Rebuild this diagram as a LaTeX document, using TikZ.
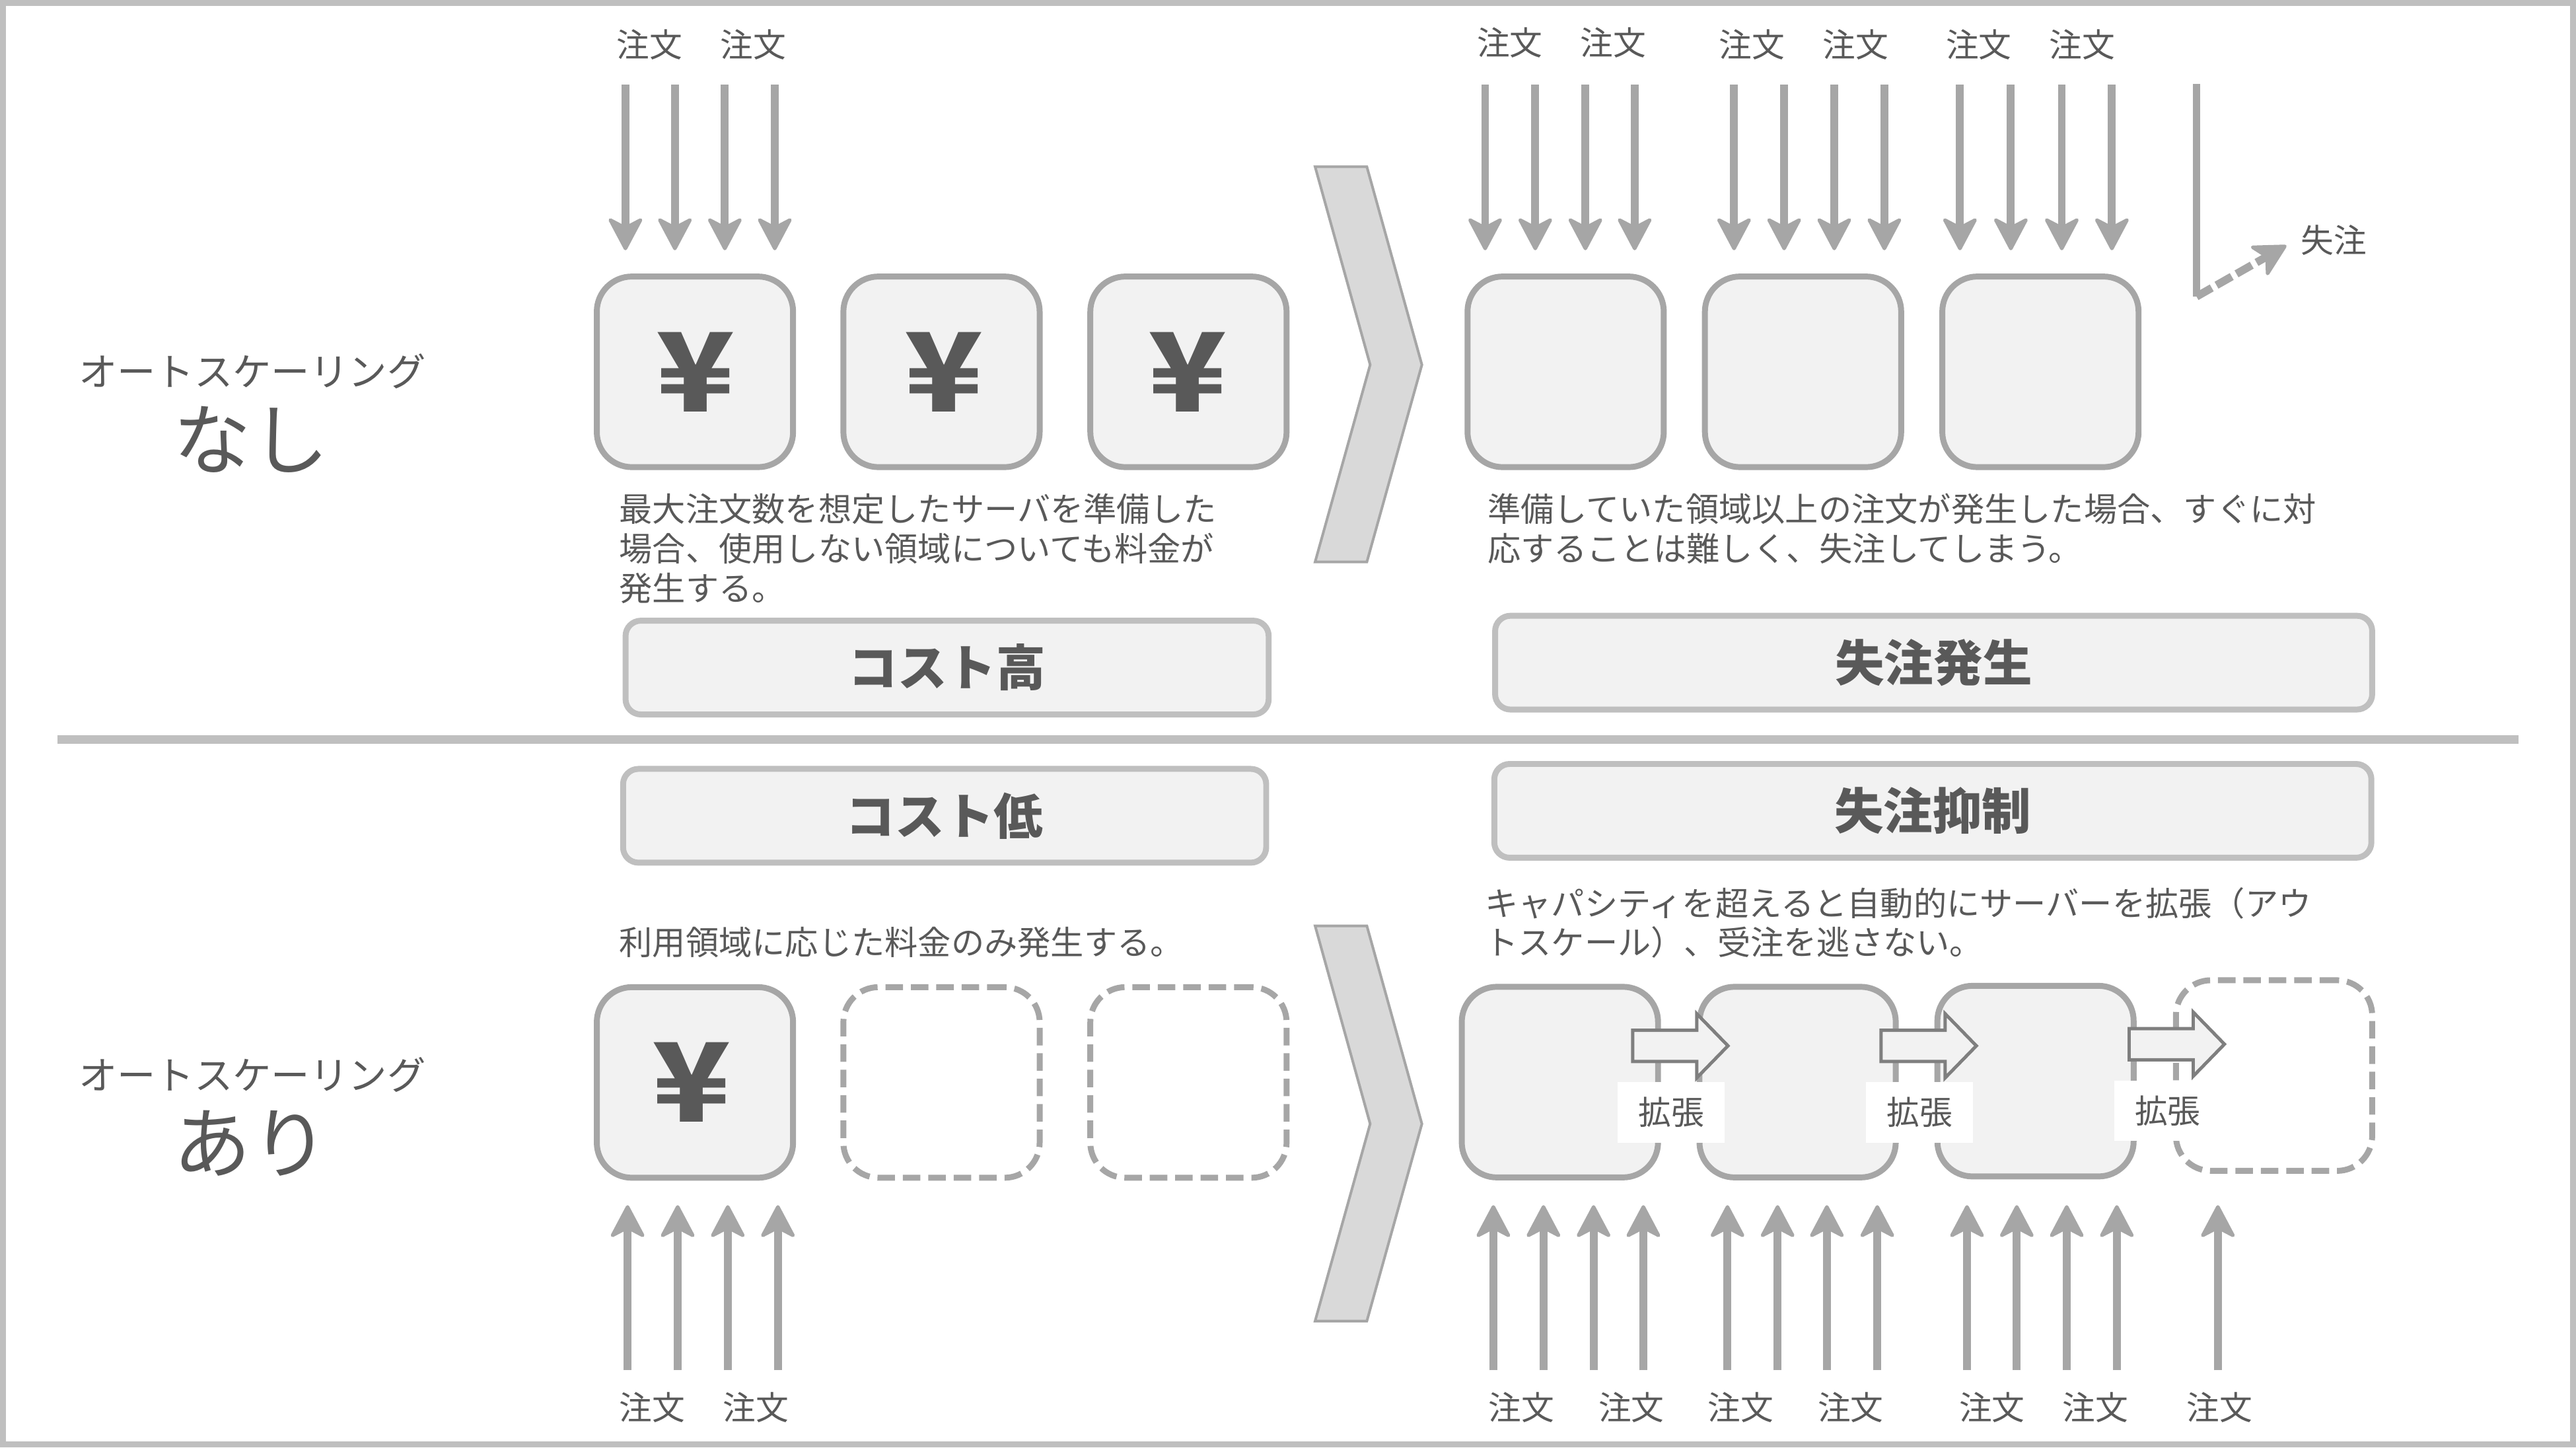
\documentclass[tikz,border=0pt]{standalone}
\usepackage{fontspec}
\setmainfont{Noto Sans CJK JP}
\newfontfamily\yenfont{Noto Sans CJK JP Black}
\usetikzlibrary{arrows.meta}

\tikzset{every picture/.style={line width=0.75pt}}
\tikzset{
	grayline/.style={color={rgb, 255:red, 166; green, 166; blue, 166 }},
	palebox/.style={fill={rgb, 255:red, 242; green, 242; blue, 242 }},
	srvbox/.style={grayline,palebox,line width=2.7pt,rounded corners=16pt,minimum width=89.6pt,minimum height=87pt,inner sep=0pt,text={rgb, 255:red, 89; green, 89; blue, 89 }},
	srvghost/.style={srvbox,fill=none,dash pattern=on 8pt off 3.6pt},
	costbox/.style={color={rgb, 255:red, 191; green, 191; blue, 191 },palebox,line width=2.7pt,rounded corners=7pt,inner sep=0pt,text={rgb, 255:red, 89; green, 89; blue, 89 },font=\fontsize{22.5pt}{27pt}\selectfont\bfseries},
	txt/.style={text={rgb, 255:red, 89; green, 89; blue, 89 },inner sep=0.75pt,font=\fontsize{15pt}{18pt}\selectfont},
	notetxt/.style={txt,anchor=north west,align=left,font=\fontsize{15.15pt}{18pt}\selectfont},
	yen/.style={font=\fontsize{50pt}{50pt}\yenfont},
	ordarrow/.style={grayline,line width=3.6pt,-{Stealth[length=16.5pt,width=17.4pt,inset=4.5pt,round,line width=1.6pt]}},
	chevron/.style={grayline,fill={rgb, 255:red, 217; green, 217; blue, 217 },line width=1.2pt},
	growarrow/.style={color={rgb, 255:red, 127; green, 127; blue, 127 },palebox,line width=1.5pt},
}

\begin{document}
\begin{tikzpicture}[x=0.75pt,y=0.75pt,yscale=-1,xscale=1]
	\useasboundingbox (0,0) rectangle (1568,880.9);
	
	%Frame and divider
	\draw [color={rgb, 255:red, 191; green, 191; blue, 191 }][line width=2.8pt] (1.9,1.9) rectangle (1566.1,879);
	\coordinate (divL) at (35,450);
	\coordinate (divR) at (1533,450);
	\draw [color={rgb, 255:red, 191; green, 191; blue, 191 }][line width=3.9pt] (divL) -- (divR);
	
	%Chevrons
	\draw [chevron] (800.5,101.5) -- (832,101.5) -- (865.5,222) -- (832,342) -- (800.5,342) -- (834,222) -- cycle;
	\draw [chevron] (800.5,563.5) -- (832,563.5) -- (865.5,684) -- (832,804) -- (800.5,804) -- (834,684) -- cycle;
	
	%Server boxes, no autoscaling
	\draw (423,226.3) node (srvA) [srvbox,draw] {};
	\draw (573.1,226.3) node (srvB) [srvbox,draw] {};
	\draw (723.4,226.3) node (srvC) [srvbox,draw] {};
	\draw (953,226.3) node (srvD) [srvbox,draw] {};
	\draw (1097.5,226.3) node (srvE) [srvbox,draw] {};
	\draw (1242,226.3) node (srvF) [srvbox,draw] {};
	\draw (423.2,226.5) node (yenA) [txt,yen] {\scalebox{1.18}[1]{¥}};
	\draw (574.5,226.5) node (yenB) [txt,yen] {\scalebox{1.18}[1]{¥}};
	\draw (723,226.5) node (yenC) [txt,yen] {\scalebox{1.18}[1]{¥}};
	
	%Server boxes, with autoscaling
	\draw (423,658.8) node (srvG) [srvbox,draw] {};
	\draw (573.1,658.8) node (srvH) [srvghost,draw] {};
	\draw (723.4,658.8) node (srvI) [srvghost,draw] {};
	\draw (949.5,658.6) node (srvJ) [srvbox,draw] {};
	\draw (1094.2,658.6) node (srvK) [srvbox,draw] {};
	\draw (1239,658) node (srvL) [srvbox,draw] {};
	\draw (1384.2,654.6) node (srvM) [srvghost,draw] {};
	\draw (421,658.5) node (yenD) [txt,yen] {\scalebox{1.18}[1]{¥}};
	
	%Grow arrows and labels
	\foreach \x/\y [count=\i] in {993.8/636.5,1145/636.5,1296/635.5} {
		\draw (\x+23.5,\y+40.5) node (growL\i) [txt,fill=white,minimum width=48.8pt,minimum height=27.6pt] {拡張};
		\draw [growarrow] (\x,\y-9.5) -- (\x+39,\y-9.5) -- (\x+39,\y-19.5) -- (\x+58,\y) -- (\x+39,\y+19.5) -- (\x+39,\y+9.5) -- (\x,\y+9.5) -- cycle;
	}
	
	%Order arrows, downward
	\foreach \x [count=\i] in {380.7,410.8,441.2,471.6,904,934.5,965,995,1055.5,1086,1116.5,1147,1193,1224,1255,1285.5} {
		\coordinate (dnS\i) at (\x,51.5);
		\coordinate (dnE\i) at (\x,152.3);
		\draw [ordarrow] (dnS\i) -- (dnE\i);
	}
	%Order arrows, upward
	\foreach \x [count=\i] in {382,412.5,443,473.5,909,939.5,970,1000.3,1051.5,1082,1112,1142.7,1197.3,1227.6,1258,1288.5,1350} {
		\coordinate (upS\i) at (\x,834);
		\coordinate (upE\i) at (\x,733.5);
		\draw [ordarrow] (upS\i) -- (upE\i);
	}
	
	%Lost order arrow
	\coordinate (lostS) at (1337,51);
	\coordinate (lostM) at (1337,180.5);
	\coordinate (lostE) at (1391.7,149.4);
	\draw [grayline,line width=3.6pt] (lostS) -- (lostM);
	\draw [ordarrow,dash pattern=on 8pt off 2.5pt] (lostM) -- (lostE);
	
	% Cost boxes
	\draw (576.5,406.3) node (costHi) [costbox,draw,minimum width=293.6pt,minimum height=42.8pt] {コスト高};
	\draw (1177,403.3) node (lostHi) [costbox,draw,minimum width=400.4pt,minimum height=42.8pt] {失注発生};
	\draw (575,496.5) node (costLo) [costbox,draw,minimum width=293.6pt,minimum height=42.8pt] {コスト低};
	\draw (1176.5,493.5) node (lostLo) [costbox,draw,minimum width=400.4pt,minimum height=42.8pt] {失注抑制};
	
	% Text Node
	\draw (153.5,226) node (rowA) [txt,font=\fontsize{17.6pt}{20pt}\selectfont] {オートスケーリング};
	% Text Node
	\draw (153,267.5) node (rowAb) [txt,font=\fontsize{35.5pt}{40pt}\selectfont] {なし};
	% Text Node
	\draw (153.5,654) node (rowB) [txt,font=\fontsize{17.6pt}{20pt}\selectfont] {オートスケーリング};
	% Text Node
	\draw (153,696) node (rowBb) [txt,font=\fontsize{35.5pt}{40pt}\selectfont] {あり};
	% Text Node
	\draw (375.5,299) node (noteA) [notetxt] {最大注文数を想定したサーバを準備した\\場合、使用しない領域についても料金が\\発生する。};
	% Text Node
	\draw (904,299) node (noteB) [notetxt] {準備していた領域以上の注文が発生した場合、すぐに対\\応することは難しく、失注してしまう。};
	% Text Node
	\draw (375.5,562.5) node (noteC) [notetxt] {利用領域に応じた料金のみ発生する。};
	% Text Node
	\draw (902.5,538.5) node (noteD) [notetxt] {キャパシティを超えると自動的にサーバーを拡張（アウ\\トスケール）、受注を逃さない。};
	% Text Node
	\draw (1420.5,146) node (lostLbl) [txt] {失注};
	
	% Order labels
	\foreach \x/\y [count=\i] in {395.5/27,458.5/27,919/26,982/26,1066.5/27,1129.5/27,1204.5/27,1267.5/27,397/856.5,460/856.5,926/856.5,993/856.5,1059.5/856.5,1126.5/856.5,1212.5/856.5,1275.5/856.5,1351/856.5} {
		\draw (\x,\y) node (ordLbl\i) [txt] {注文};
	}
\end{tikzpicture}
\end{document}
